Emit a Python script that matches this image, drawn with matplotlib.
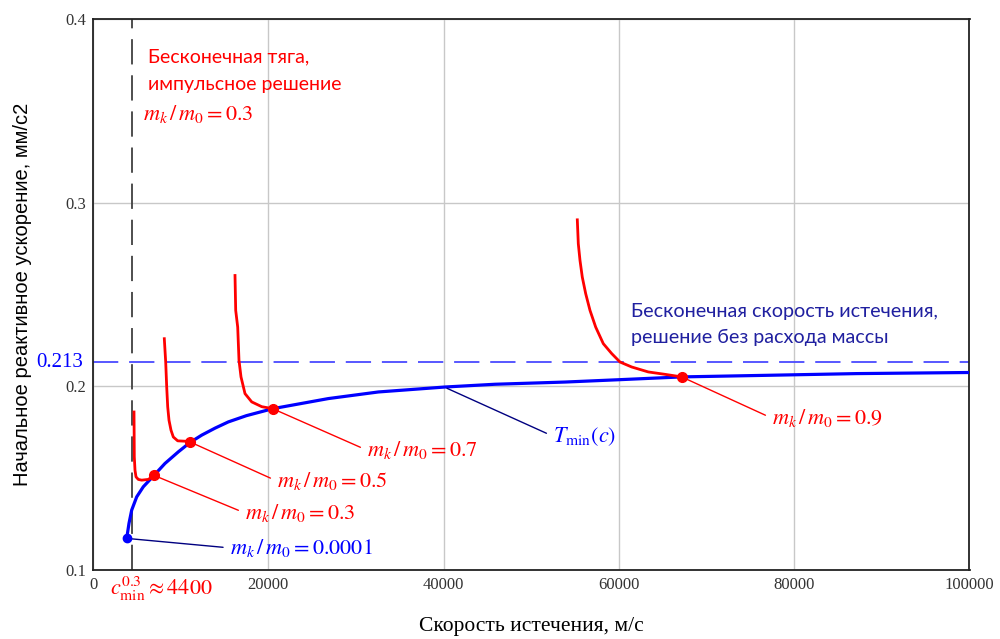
import numpy as np
import matplotlib.pyplot as plt

plt.rcParams['mathtext.fontset'] = 'stix'

# T_min(c): minimal initial acceleration vs exhaust velocity
c_blue = [3845, 4107, 4415, 4986, 5739, 6960, 8214, 9732, 11067, 12402, 13919, 15436, 17500,
          20502, 26845, 32550, 40160, 45864, 53850, 60126, 67165, 77240, 87130, 100000]
a_blue = [0.1172, 0.1254, 0.1326, 0.1398, 0.1453, 0.1515, 0.1580, 0.1643, 0.1694, 0.1734,
          0.1772, 0.1806, 0.1840, 0.1878, 0.1933, 0.1969, 0.1996, 0.2011, 0.2023, 0.2036,
          0.2051, 0.2060, 0.2069, 0.2075]

# curves for fixed mass ratio mk/m0
c_03 = [4678, 4712, 4792, 4906, 5168, 5556, 6309, 6960]
a_03 = [0.1860, 0.1616, 0.1543, 0.1507, 0.1493, 0.1489, 0.1493, 0.1515]
c_05 = [8135, 8294, 8409, 8523, 8671, 8899, 9162, 9663, 10496, 11067]
a_05 = [0.2259, 0.2132, 0.1996, 0.1888, 0.1815, 0.1761, 0.1724, 0.1703, 0.1701, 0.1697]
c_07 = [16201, 16281, 16509, 16657, 16885, 17342, 18106, 19247, 20502]
a_07 = [0.2603, 0.2413, 0.2322, 0.2141, 0.2051, 0.1960, 0.1915, 0.1889, 0.1878]
c_09 = [55254, 55368, 55562, 55824, 56212, 56703, 57353, 58220, 59179, 60126, 61460,
        63354, 65260, 67165]
a_09 = [0.2906, 0.2776, 0.2685, 0.2594, 0.2504, 0.2413, 0.2322, 0.2232, 0.2178, 0.2132,
        0.2105, 0.2078, 0.2065, 0.2051]

# marked points (mk/m0 = 0.0001, 0.3, 0.5, 0.7, 0.9)
c_dot_red = [6960, 11067, 20502, 67165]
a_dot_red = [0.1515, 0.1697, 0.1878, 0.2051]
c_dot_blue = 3845
a_dot_blue = 0.1172

c_min_03 = 4400       # impulsive solution
a_inf = 0.213         # infinite exhaust velocity level

fig = plt.figure(figsize=(10, 6.39), dpi=100)
ax = fig.add_axes([0.093, 0.108, 0.8765, 0.8625])

red = '#ff0000'
blue = '#0000ff'
navy = '#000080'

ax.axvline(c_min_03, color='#404040', lw=1.3, dashes=(14, 6), zorder=2)
ax.axhline(a_inf, color='#4a4aff', lw=1.3, dashes=(14, 6), zorder=2)

ax.plot(c_blue, a_blue, color=blue, lw=2.3, zorder=3)
for cc, aa in [(c_03, a_03), (c_05, a_05), (c_07, a_07), (c_09, a_09)]:
    ax.plot(cc, aa, color=red, lw=2.0, zorder=3)
ax.plot(c_dot_red, a_dot_red, 'o', color=red, ms=7, zorder=4)
ax.plot([c_dot_blue], [a_dot_blue], 'o', color=blue, ms=6, zorder=4)

ax.set_xlim(0, 100000)
ax.set_ylim(0.1, 0.4)
ax.set_xticks([0, 20000, 40000, 60000, 80000, 100000])
ax.set_yticks([0.1, 0.2, 0.3, 0.4])
ax.set_xticklabels(['0', '20000', '40000', '60000', '80000', '100000'])
ax.set_yticklabels(['0.1', '0.2', '0.3', '0.4'])
ax.tick_params(length=0, labelsize=12, colors='#333333', pad=5)
for lab in ax.get_xticklabels() + ax.get_yticklabels():
    lab.set_family('Liberation Serif')
ax.grid(True, color='#c8c8c8', lw=1.0)
ax.set_axisbelow(True)
for s in ax.spines.values():
    s.set_linewidth(1.3)
    s.set_color('#222222')

ax.set_xlabel('Скорость истечения, м/с', family='Liberation Serif', fontsize=15.5)
ax.xaxis.set_label_coords(0.5, -0.086)
ax.set_ylabel('Начальное реактивное ускорение, мм/с2', family='Liberation Sans', fontsize=14.5)
ax.yaxis.set_label_coords(-0.07, 0.5)

ax.text(-1150, a_inf, '0.213', color=blue, family='Liberation Serif', fontsize=15,
        ha='right', va='center', clip_on=False)

mt = 16
ax.text(6275, 0.3793, 'Бесконечная тяга,', color=red, family='Lato', fontsize=14, va='center')
ax.text(6275, 0.3641, 'импульсное решение', color=red, family='Lato', fontsize=14, va='center')
ax.text(5705, 0.3484, r'$m_k\,/\,m_0 = 0.3$', color=red, fontsize=mt, va='center')

ax.text(61380, 0.2408, 'Бесконечная скорость истечения,', color='#2020a0', family='Lato',
        fontsize=14.2, va='center')
ax.text(61380, 0.2266, 'решение без расхода массы', color='#2020a0', family='Lato',
        fontsize=14.2, va='center')

lead = dict(arrowstyle='-', lw=1.0, relpos=(0, 0.5), shrinkA=3, shrinkB=0)
ax.annotate(r'$m_k\,/\,m_0 = 0.3$', xy=(c_dot_red[0], a_dot_red[0]), xytext=(17342, 0.131),
            color=red, fontsize=mt, va='center', arrowprops=dict(lead, color=red))
ax.annotate(r'$m_k\,/\,m_0 = 0.5$', xy=(c_dot_red[1], a_dot_red[1]), xytext=(20993, 0.1484),
            color=red, fontsize=mt, va='center', arrowprops=dict(lead, color=red))
ax.annotate(r'$m_k\,/\,m_0 = 0.7$', xy=(c_dot_red[2], a_dot_red[2]), xytext=(31260, 0.1652),
            color=red, fontsize=mt, va='center', arrowprops=dict(lead, color=red))
ax.annotate(r'$m_k\,/\,m_0 = 0.9$', xy=(c_dot_red[3], a_dot_red[3]), xytext=(77467, 0.1826),
            color=red, fontsize=mt, va='center', arrowprops=dict(lead, color=red))
ax.annotate(r'$m_k\,/\,m_0 = 0.0001$', xy=(c_dot_blue, a_dot_blue), xytext=(15630, 0.112),
            color=blue, fontsize=mt, va='center', arrowprops=dict(lead, color=navy))
ax.annotate(r'$T_{\min}\left(c\right)$', xy=(40388, 0.1989), xytext=(52481, 0.1728),
            color=blue, fontsize=mt, va='center', arrowprops=dict(lead, color=navy))

ax.text(1900, 0.0895, r'$c_{\min}^{0.3} \approx 4400$', color=red, fontsize=mt,
        va='center', clip_on=False)

fig.savefig('out.png', dpi=100)
